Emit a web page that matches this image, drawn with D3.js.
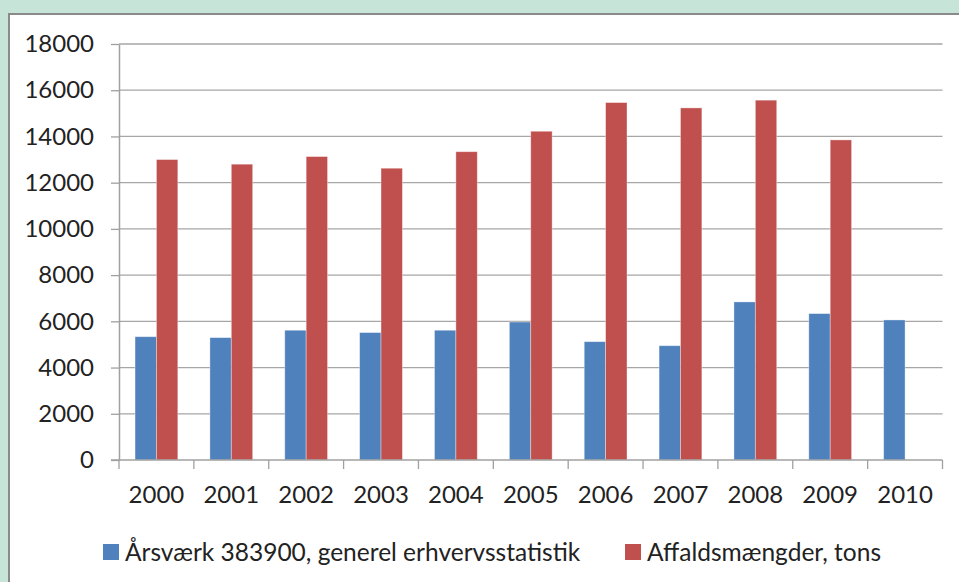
<!DOCTYPE html>
<html>
<head>
<meta charset="utf-8">
<script src="https://cdn.jsdelivr.net/npm/d3@7"></script>
<style>
  html, body { margin: 0; padding: 0; background: #c6e4d8; }
  svg { display: block; }
  text { font-family: Lato, "Open Sans", sans-serif; fill: #222; }
</style>
</head>
<body>
<script>
// data
const years = ["2000", "2001", "2002", "2003", "2004", "2005", "2006", "2007", "2008", "2009", "2010"];
const aarsvaerk = [5335, 5295, 5615, 5515, 5615, 5970, 5120, 4945, 6840, 6335, 6060];
const affald = [13000, 12800, 13130, 12625, 13340, 14225, 15465, 15235, 15570, 13850, null];
const yTicks = [0, 2000, 4000, 6000, 8000, 10000, 12000, 14000, 16000, 18000];
const seriesNames = ["Årsværk 383900, generel erhvervsstatistik", "Affaldsmængder, tons"];
const colors = ["#4f81bd", "#c0504d"];

const W = 959, H = 582;
const plotLeft = 119, plotRight = 942.5, plotTop = 44, plotBottom = 460;

const svg = d3.select("body").append("svg")
  .attr("width", W)
  .attr("height", H);

// white panel
svg.append("rect")
  .attr("x", 9).attr("y", 14)
  .attr("width", W + 10).attr("height", H + 10)
  .attr("fill", "white")
  .attr("stroke", "#8a8a8a")
  .attr("stroke-width", 2);

const x = d3.scaleBand().domain(years).range([plotLeft, plotRight]).paddingInner(0).paddingOuter(0);
const y = d3.scaleLinear().domain([0, 18000]).range([plotBottom, plotTop]);

const bw = x.bandwidth() / 3.5;
const offset = bw * 0.75;

// gridlines
svg.append("g")
  .selectAll("line")
  .data(yTicks.filter(d => d > 0))
  .enter().append("line")
  .attr("x1", plotLeft).attr("x2", plotRight)
  .attr("y1", d => y(d)).attr("y2", d => y(d))
  .attr("stroke", "#a6a6a6")
  .attr("stroke-width", 1.3);

// bars
const rows = years.map((yr, i) => ({year: yr, vals: [aarsvaerk[i], affald[i]]}));
const groups = svg.append("g").selectAll("g")
  .data(rows)
  .enter().append("g")
  .attr("transform", d => "translate(" + (x(d.year) + offset) + ",0)");

groups.selectAll("rect")
  .data(d => d.vals.map((v, k) => ({v: v, k: k})).filter(e => e.v != null))
  .enter().append("rect")
  .attr("x", d => d.k * bw)
  .attr("width", bw)
  .attr("y", d => y(d.v))
  .attr("height", d => y(0) - y(d.v))
  .attr("fill", d => colors[d.k])
  .attr("stroke", "rgba(255,255,255,0.45)")
  .attr("stroke-width", 0.8);

// y axis
const yAxis = d3.axisLeft(y).tickValues(yTicks).tickSize(8).tickSizeOuter(0).tickPadding(17).tickFormat(d3.format("d"));
const gy = svg.append("g")
  .attr("transform", "translate(" + plotLeft + ",0)")
  .call(yAxis);
gy.select(".domain").attr("stroke", "#a0a0a0").attr("stroke-width", 1.5);
gy.selectAll(".tick line").attr("stroke", "#a0a0a0").attr("stroke-width", 1.3);
gy.selectAll("text").style("font-size", "24px").attr("fill", "#222");

// x axis
svg.append("line")
  .attr("x1", plotLeft - 8).attr("x2", plotRight)
  .attr("y1", plotBottom).attr("y2", plotBottom)
  .attr("stroke", "#a0a0a0").attr("stroke-width", 1.5);

svg.append("g").selectAll("line")
  .data(years.concat(["end"]))
  .enter().append("line")
  .attr("x1", (d, i) => plotLeft + i * x.bandwidth())
  .attr("x2", (d, i) => plotLeft + i * x.bandwidth())
  .attr("y1", plotBottom).attr("y2", plotBottom + 9)
  .attr("stroke", "#a0a0a0").attr("stroke-width", 1.3);

svg.append("g").selectAll("text")
  .data(years)
  .enter().append("text")
  .attr("x", d => x(d) + x.bandwidth() / 2)
  .attr("y", 503)
  .attr("text-anchor", "middle")
  .style("font-size", "24px")
  .text(d => d);

// legend
const legendX = [103, 625];
const legend = svg.append("g").selectAll("g")
  .data(seriesNames)
  .enter().append("g")
  .attr("transform", (d, i) => "translate(" + legendX[i] + ",544)");

legend.append("rect")
  .attr("width", 16).attr("height", 16)
  .attr("fill", (d, i) => colors[i]);

legend.append("text")
  .attr("x", 22)
  .attr("y", 17)
  .style("font-size", "24.5px")
  .text(d => d);
</script>
</body>
</html>
